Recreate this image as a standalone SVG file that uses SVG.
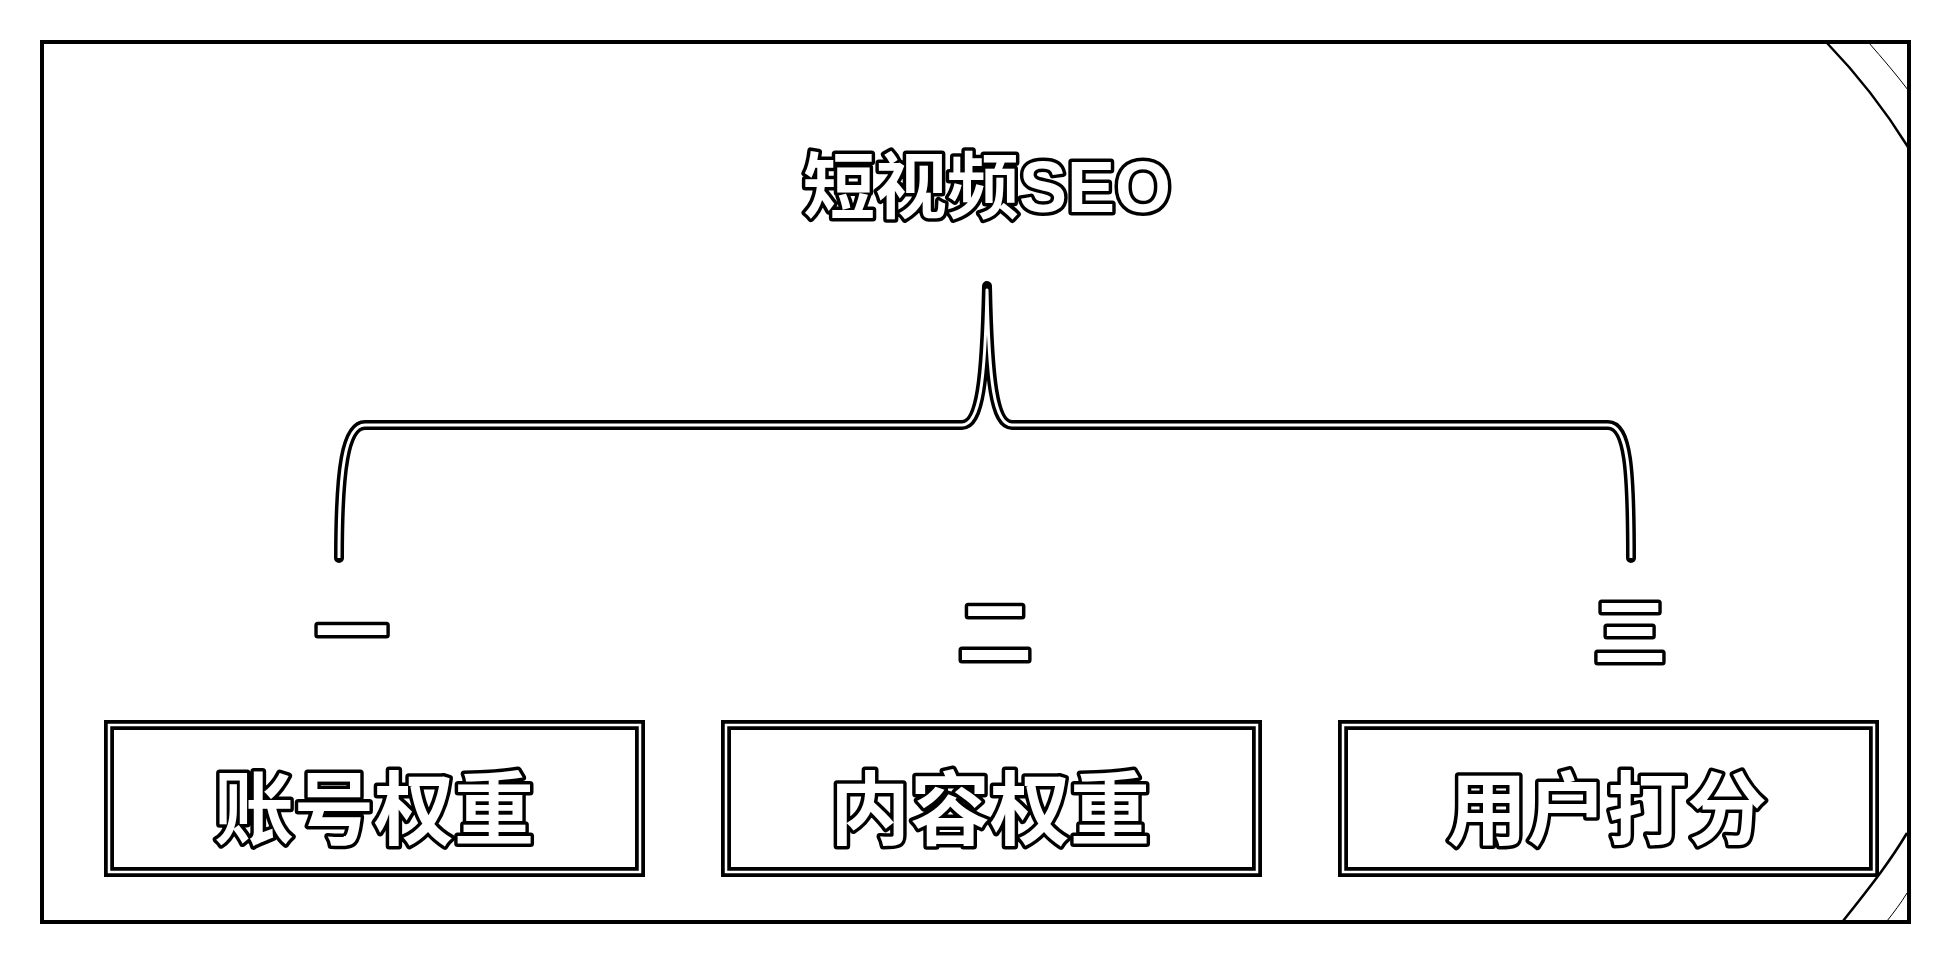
<svg xmlns="http://www.w3.org/2000/svg" width="1952" height="964" viewBox="0 0 1952 964">
<style>
.lbl{font-family:"Liberation Sans","Noto Sans CJK SC",sans-serif;font-weight:700;fill:#fff;stroke:#000;stroke-width:7;paint-order:stroke fill;stroke-linejoin:round;text-anchor:middle}
.cjk{font-family:"Noto Sans CJK SC",sans-serif}
.outer{fill:none;stroke:#000;stroke-width:10}
.inner{fill:none;stroke:#fff;stroke-width:2.5}
.bo{fill:none;stroke:#000;stroke-width:10;stroke-linecap:round;stroke-linejoin:round}
.bi{fill:none;stroke:#fff;stroke-width:3;stroke-linecap:butt;stroke-linejoin:round}
.scr{fill:none;stroke:#000}
</style>
<rect x="0" y="0" width="1952" height="964" fill="#fff"/>
<rect x="42" y="42" width="1867" height="880" fill="none" stroke="#000" stroke-width="4"/>
<g id="scratches">
<path class="scr" stroke-width="2.5" d="M1827,43 C1855,72 1885,110 1908,147"/>
<path class="scr" stroke-width="1" d="M1869,43 C1882,58 1896,74 1908,90"/>
<path class="scr" stroke-width="2.5" d="M1843,921 C1865,893 1888,865 1907,833"/>
<path class="scr" stroke-width="1" d="M1887,921 C1894,912 1901,903 1907,893"/>
</g>
<g id="title">
<text class="lbl" x="987" y="212" font-size="72">短视频SEO</text>
</g>
<g id="connectors">
<path class="bo" d="M339,558 C339,470 345,425 365,425 L962,425 C980,425 985,380 987,286 C989,380 994,425 1012,425 L1608,425 C1628,425 1631,470 1631,558"/>
<path class="bi" d="M339,558 C339,470 345,425 365,425 L962,425 C980,425 985,380 987,290 C989,380 994,425 1012,425 L1608,425 C1628,425 1631,470 1631,558"/>
</g>
<g id="num1"><text class="lbl cjk" x="352" y="659" font-size="74">一</text></g>
<g id="num2"><text class="lbl cjk" x="995" y="659" font-size="74">二</text></g>
<g id="num3"><text class="lbl cjk" x="1630" y="659" font-size="74">三</text></g>
<g id="box1">
<rect class="outer" x="109" y="725" width="531" height="147"/>
<rect class="inner" x="109" y="725" width="531" height="147"/>
<text class="lbl cjk" x="374" y="838" font-size="80">账号权重</text>
</g>
<g id="box2">
<rect class="outer" x="726" y="725" width="531" height="147"/>
<rect class="inner" x="726" y="725" width="531" height="147"/>
<text class="lbl cjk" x="990" y="838" font-size="80">内容权重</text>
</g>
<g id="box3">
<rect class="outer" x="1343" y="725" width="531" height="147"/>
<rect class="inner" x="1343" y="725" width="531" height="147"/>
<text class="lbl cjk" x="1607" y="838" font-size="80">用户打分</text>
</g>
</svg>
